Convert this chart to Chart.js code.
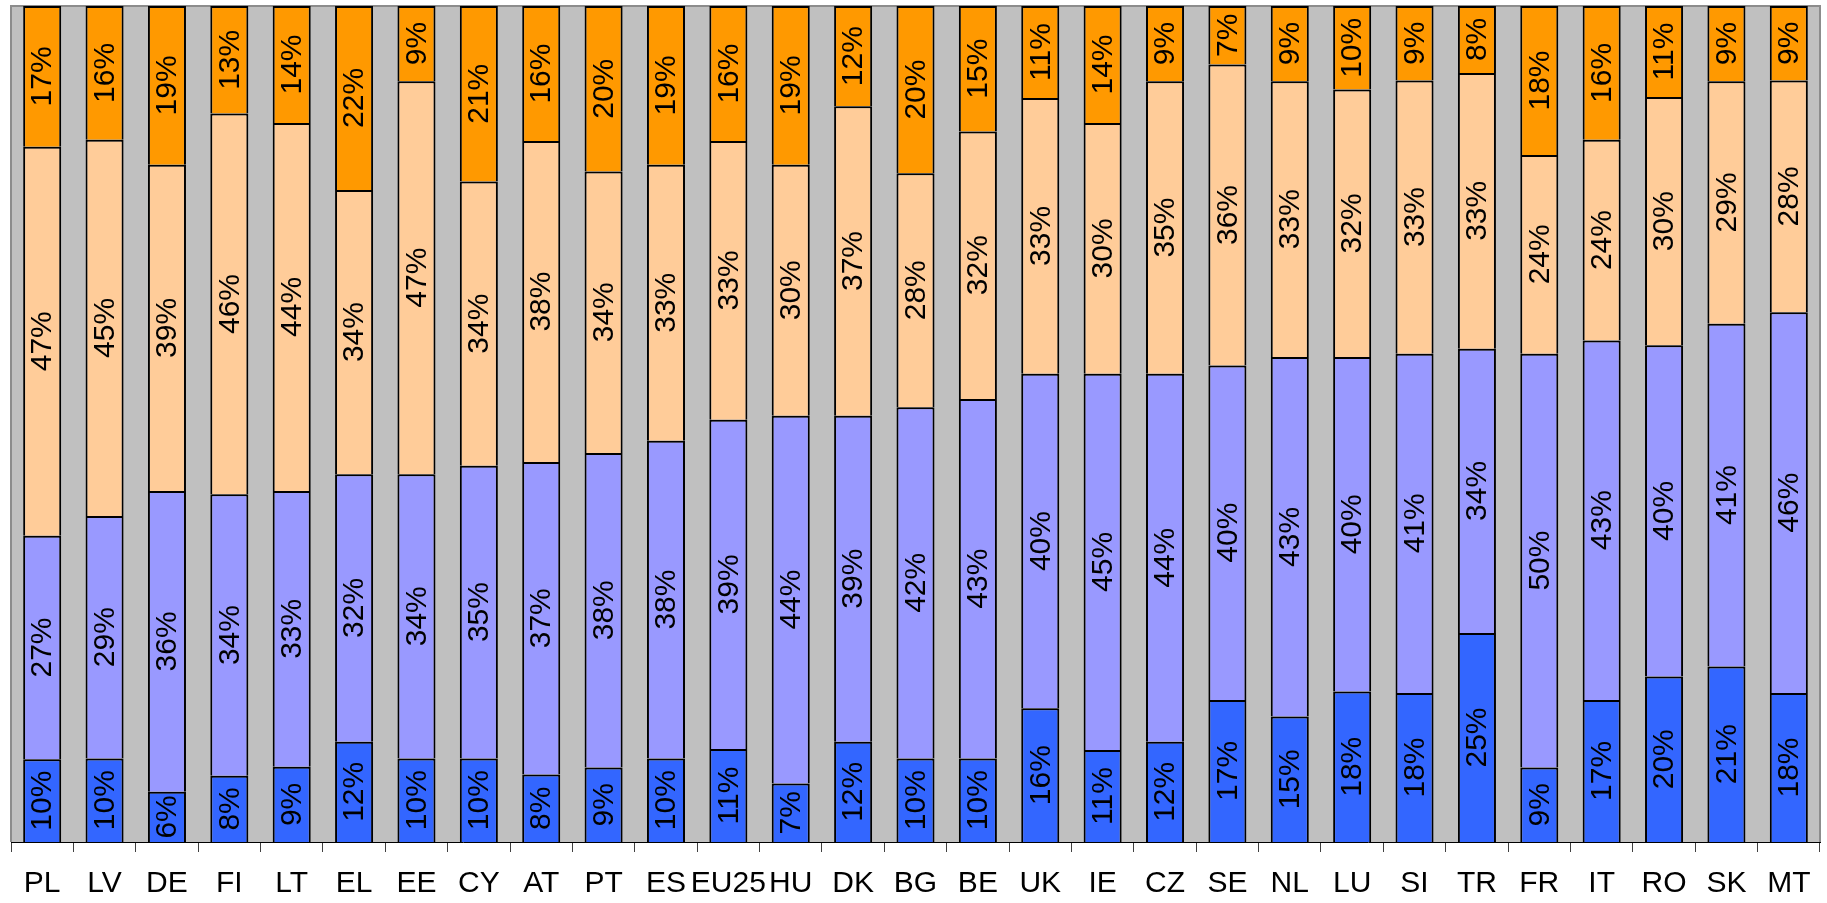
<!DOCTYPE html>
<html>
<head>
<meta charset="utf-8">
<script src="https://cdn.jsdelivr.net/npm/chart.js@4.4.1/dist/chart.umd.min.js"></script>
<style>
  html, body { margin: 0; padding: 0; background: #ffffff; }
  #wrap { width: 1827px; height: 903px; }
</style>
</head>
<body>
<div id="wrap"><canvas id="chart" width="1827" height="903"></canvas></div>
<script>
// Countries, in display order
const categories = ["PL","LV","DE","FI","LT","EL","EE","CY","AT","PT","ES","EU25","HU","DK","BG","BE","UK","IE","CZ","SE","NL","LU","SI","TR","FR","IT","RO","SK","MT"];

// Shares per country (%), from the bottom segment to the top one
const shareA = [10,10, 6, 8, 9,12,10,10, 8, 9,10,11, 7,12,10,10,16,11,12,17,15,18,18,25, 9,17,20,21,18];
const shareB = [27,29,36,34,33,32,34,35,37,38,38,39,44,39,42,43,40,45,44,40,43,40,41,34,50,43,40,41,46];
const shareC = [47,45,39,46,44,34,47,34,38,34,33,33,30,37,28,32,33,30,35,36,33,32,33,33,24,24,30,29,28];
const shareD = [17,16,19,13,14,22, 9,21,16,20,19,16,19,12,20,15,11,14, 9, 7, 9,10, 9, 8,18,16,11, 9, 9];

const seriesNames = ["A", "B", "C", "D"];
const seriesColors = ["#3366FF", "#9999FF", "#FFCC99", "#FF9900"];
const series = [shareA, shareB, shareC, shareD];

// Each column is stacked to 100 %
const totals = categories.map((_, i) => series.reduce((s, arr) => s + arr[i], 0));

const datasets = series.map((arr, k) => ({
  label: seriesNames[k],
  data: arr.map((v, i) => v / totals[i] * 100),
  raw: arr,
  backgroundColor: seriesColors[k],
  borderColor: "#000000",
  borderWidth: 2,
  borderSkipped: "start",
  barPercentage: 0.61,
  categoryPercentage: 1.0
}));

// Grey plot background and frame
const plotFrame = {
  id: "plotFrame",
  beforeDatasetsDraw(chart) {
    const { ctx, chartArea: a } = chart;
    ctx.save();
    ctx.fillStyle = "#C0C0C0";
    ctx.fillRect(a.left, a.top, a.right - a.left, a.bottom - a.top);
    ctx.strokeStyle = "#8C8C8C";
    ctx.lineWidth = 2;
    ctx.beginPath();
    ctx.moveTo(a.left, a.bottom);
    ctx.lineTo(a.left, a.top);
    ctx.lineTo(a.right, a.top);
    ctx.lineTo(a.right, a.bottom);
    ctx.stroke();
    ctx.restore();
  }
};

// Rotated percentage labels centred in every segment
const segmentLabels = {
  id: "segmentLabels",
  afterDatasetsDraw(chart) {
    const { ctx } = chart;
    ctx.save();
    ctx.font = "30px 'Liberation Sans', Arial, sans-serif";
    ctx.fillStyle = "#000000";
    ctx.textAlign = "center";
    ctx.textBaseline = "middle";
    chart.data.datasets.forEach((ds, k) => {
      const meta = chart.getDatasetMeta(k);
      meta.data.forEach((bar, i) => {
        const cy = (bar.y + bar.base) / 2;
        ctx.save();
        ctx.translate(bar.x, cy);
        ctx.rotate(-Math.PI / 2);
        ctx.fillText(ds.raw[i] + "%", 0, 1);
        ctx.restore();
      });
    });
    ctx.restore();
  }
};

new Chart(document.getElementById("chart"), {
  type: "bar",
  data: { labels: categories, datasets },
  plugins: [plotFrame, segmentLabels],
  options: {
    responsive: false,
    animation: false,
    layout: { padding: { left: 11, right: 7, top: 6, bottom: 0 } },
    plugins: { legend: { display: false }, tooltip: { enabled: false } },
    scales: {
      x: {
        stacked: true,
        offset: true,
        grid: {
          offset: true,
          drawOnChartArea: false,
          drawTicks: true,
          tickLength: 10,
          color: "#404040",
          lineWidth: 1
        },
        border: { display: true, color: "#000000", width: 1 },
        ticks: {
          color: "#000000",
          font: { family: "'Liberation Sans', Arial, sans-serif", size: 30 },
          padding: 14,
          maxRotation: 0,
          autoSkip: false
        },
        afterFit(scale) { scale.height = 61; }
      },
      y: {
        stacked: true,
        display: false,
        min: 0,
        max: 100
      }
    }
  }
});
</script>
</body>
</html>
